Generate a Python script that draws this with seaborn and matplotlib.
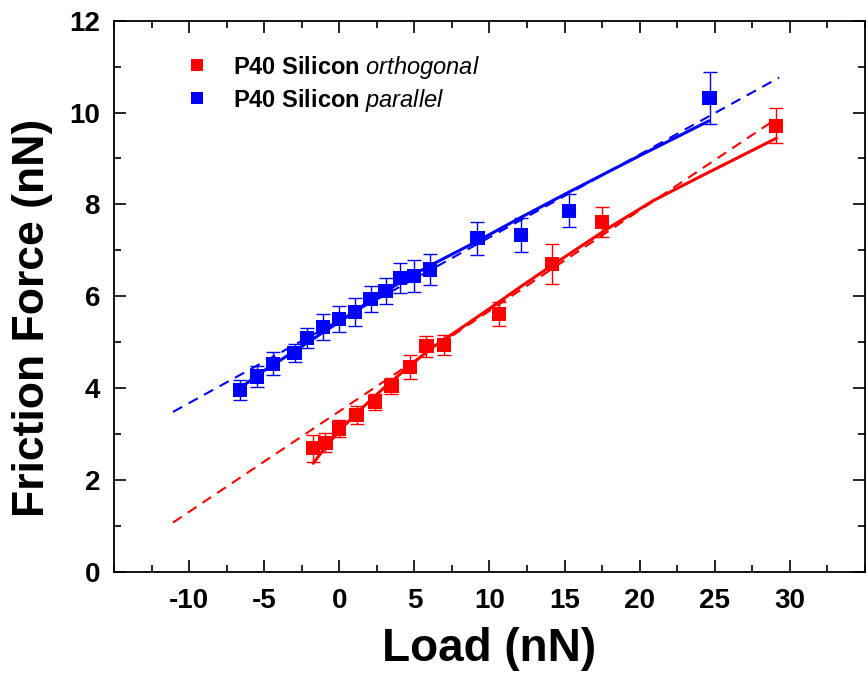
import matplotlib
matplotlib.use("Agg")
import matplotlib.pyplot as plt
from matplotlib import font_manager
from matplotlib.lines import Line2D
from matplotlib.ticker import MultipleLocator
import seaborn as sns
import pandas as pd

# ---------------- data ----------------
orth_load = [-1.74, -0.92, -0.01, 1.15, 2.36, 3.47, 4.69, 5.80, 6.95, 10.64, 14.17, 17.5, 29.1]
orth_force = [2.69, 2.81, 3.12, 3.41, 3.70, 4.04, 4.46, 4.91, 4.93, 5.62, 6.70, 7.62, 9.71]
orth_err = [0.29, 0.21, 0.18, 0.19, 0.18, 0.18, 0.27, 0.23, 0.22, 0.26, 0.44, 0.32, 0.38]

par_load = [-6.60, -5.48, -4.42, -2.98, -2.15, -1.09, 0.0, 1.05, 2.08, 3.08, 4.05, 4.97, 6.03, 9.20, 12.08, 15.28, 24.65]
par_force = [3.96, 4.25, 4.53, 4.76, 5.09, 5.33, 5.51, 5.66, 5.94, 6.12, 6.39, 6.44, 6.58, 7.26, 7.34, 7.86, 10.32]
par_err = [0.22, 0.22, 0.25, 0.20, 0.22, 0.28, 0.28, 0.30, 0.29, 0.28, 0.33, 0.34, 0.33, 0.36, 0.37, 0.36, 0.57]

# fitted curves (solid)
orth_fit_load = [-1.74, -1.0, 0.0, 1.5, 3.0, 4.5, 6.0, 8.0, 10.0, 12.0, 14.2, 18.0, 20.9, 24.0, 29.1]
orth_fit_force = [2.36, 2.68, 3.07, 3.56, 4.01, 4.43, 4.84, 5.28, 5.73, 6.19, 6.68, 7.50, 8.08, 8.60, 9.44]
par_fit_load = [-6.9, -5.0, -3.0, -1.0, 0.0, 1.5, 3.0, 4.5, 6.0, 9.2, 12.0, 15.3, 20.0, 24.62]
par_fit_force = [3.93, 4.38, 4.80, 5.23, 5.44, 5.78, 6.09, 6.39, 6.66, 7.20, 7.70, 8.27, 9.06, 9.82]

# linear fits (dashed) end points
orth_lin_load = [-11.07, 28.9]
orth_lin_force = [1.07, 9.82]
par_lin_load = [-11.07, 29.28]
par_lin_force = [3.48, 10.76]

x_ticks = [-10, -5, 0, 5, 10, 15, 20, 25, 30]
y_ticks = [0, 2, 4, 6, 8, 10, 12]

RED = "#ff0000"
BLUE = "#0000ff"

# ---------------- style ----------------
sns.set_style("ticks")
names = {f.name for f in font_manager.fontManager.ttflist}
narrow = "Liberation Sans Narrow" if "Liberation Sans Narrow" in names else "Liberation Sans"
plt.rcParams["font.family"] = ["Liberation Sans", "DejaVu Sans"]
plt.rcParams["axes.unicode_minus"] = False
plt.rcParams["text.color"] = "black"
plt.rcParams["axes.labelcolor"] = "black"
plt.rcParams["xtick.color"] = "black"
plt.rcParams["ytick.color"] = "black"
plt.rcParams["mathtext.fontset"] = "custom"
plt.rcParams["mathtext.rm"] = "Liberation Sans"
plt.rcParams["mathtext.bf"] = "Liberation Sans:bold"
plt.rcParams["mathtext.it"] = "Liberation Sans:italic"

fig = plt.figure(figsize=(8.68, 6.76), dpi=100)
ax = fig.add_axes([114 / 868, 1 - 571.7 / 676, (865 - 114) / 868, (571.7 - 20.7) / 676])

orth_df = pd.DataFrame({"load": orth_load, "force": orth_force})
par_df = pd.DataFrame({"load": par_load, "force": par_force})

# error bars
ax.errorbar(orth_load, orth_force, yerr=orth_err, fmt="none", ecolor=RED,
            elinewidth=1.0, capsize=5, capthick=1.0, zorder=2)
ax.errorbar(par_load, par_force, yerr=par_err, fmt="none", ecolor=BLUE,
            elinewidth=1.0, capsize=5, capthick=1.0, zorder=2)

# fits
sns.lineplot(x=orth_lin_load, y=orth_lin_force, ax=ax, color=RED, lw=1.5,
             estimator=None, sort=False, zorder=3).lines[-1].set_dashes((5, 3.5))
sns.lineplot(x=par_lin_load, y=par_lin_force, ax=ax, color=BLUE, lw=1.5,
             estimator=None, sort=False, zorder=3).lines[-1].set_dashes((5, 3.5))
sns.lineplot(x=orth_fit_load, y=orth_fit_force, ax=ax, color=RED, lw=2.2,
             estimator=None, sort=False, zorder=4)
sns.lineplot(x=par_fit_load, y=par_fit_force, ax=ax, color=BLUE, lw=2.2,
             estimator=None, sort=False, zorder=4)

# points
sns.scatterplot(data=orth_df, x="load", y="force", ax=ax, marker="s", s=105,
                color=RED, edgecolor="none", linewidth=0, zorder=5)
sns.scatterplot(data=par_df, x="load", y="force", ax=ax, marker="s", s=105,
                color=BLUE, edgecolor="none", linewidth=0, zorder=5)

# axes
ax.set_xlim(-15, 35)
ax.set_ylim(0, 12)
ax.set_xticks(x_ticks)
ax.set_yticks(y_ticks)
ax.xaxis.set_minor_locator(MultipleLocator(2.5))
ax.yaxis.set_minor_locator(MultipleLocator(1))
ax.tick_params(which="both", direction="in", top=True, right=True, width=1.2, color="black")
ax.tick_params(which="major", length=8.5)
ax.tick_params(which="minor", length=5)
ax.tick_params(axis="x", which="major", pad=12)
ax.tick_params(axis="y", which="major", pad=10)
for sp in ax.spines.values():
    sp.set_linewidth(1.3)
    sp.set_color("black")
    sp.set_visible(True)

for lab in ax.get_xticklabels() + ax.get_yticklabels():
    lab.set_fontfamily([narrow, "Liberation Sans"])
    lab.set_fontweight("bold")
    lab.set_fontsize(20)
    lab.set_color("black")

ax.set_xlabel("Load (nN)", fontsize=33, fontweight="bold", family=[narrow, "Liberation Sans"], color="black")
ax.set_ylabel("Friction Force (nN)", fontsize=32, fontweight="bold", family=[narrow, "Liberation Sans"], color="black")
ax.xaxis.label.set_va("center")
ax.xaxis.set_label_coords(0.50, -0.14)
ax.yaxis.label.set_va("center")
ax.yaxis.set_label_coords(-0.108, 0.46)

handles = [Line2D([], [], marker="s", ls="none", color=RED, markersize=9, markeredgewidth=0),
           Line2D([], [], marker="s", ls="none", color=BLUE, markersize=9, markeredgewidth=0)]
labels = [r"$\mathbf{P40\ Silicon}$ $\mathit{orthogonal}$",
          r"$\mathbf{P40\ Silicon}$ $\mathit{parallel}$"]
ax.legend(handles, labels, loc="upper left", bbox_to_anchor=(0.0945, 0.94),
          frameon=False, fontsize=17, handlelength=1.0, handletextpad=1.05,
          borderpad=0, borderaxespad=0, labelspacing=0.25, labelcolor="black")

fig.savefig("out.png", dpi=100)
